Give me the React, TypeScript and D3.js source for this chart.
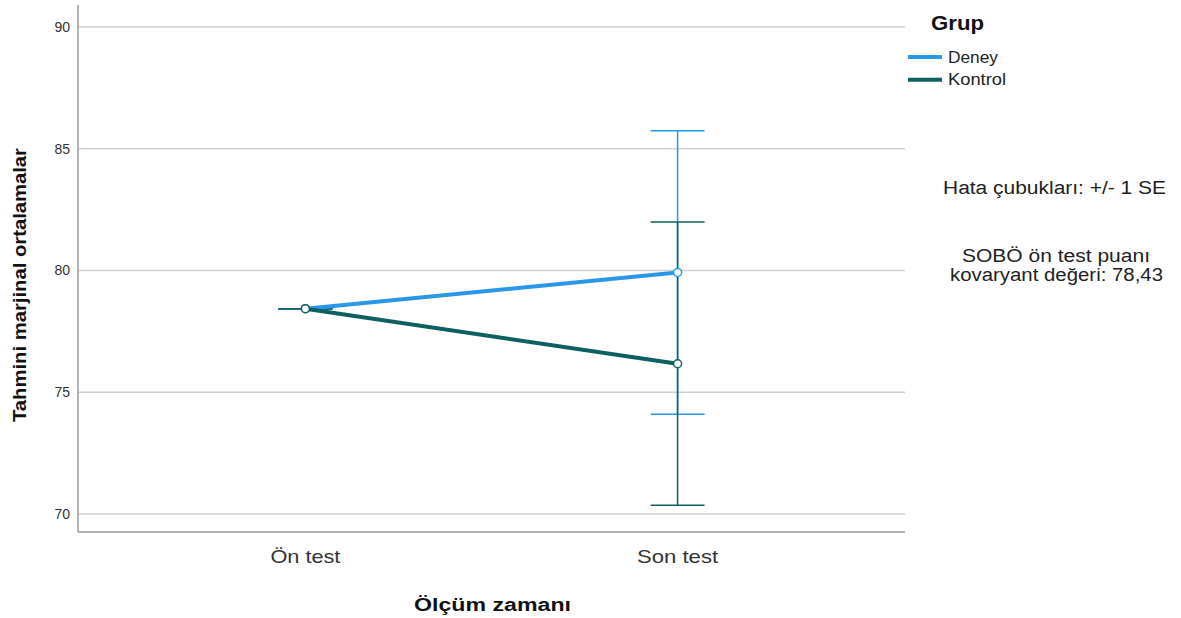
import React from "react";
import * as d3 from "d3";

const categories = ["Ön test", "Son test"];
const groups = ["Deney", "Kontrol"];
const deneyMeans = [78.43, 79.92];
const deneyLower = [78.43, 74.1];
const deneyUpper = [78.43, 85.74];
const kontrolMeans = [78.43, 76.17];
const kontrolLower = [78.43, 70.36];
const kontrolUpper = [78.43, 81.99];
const yTicks = [70, 75, 80, 85, 90];
const colors = ["#2b97e9", "#0e5f5f"];

const W = 1181, H = 618;
const left = 78, right = 905, top = 5, bottom = 532;

export default function App() {
  const x = d3.scalePoint<string>().domain(categories).range([left, right]).padding(0.611);
  const y = d3.scaleLinear().domain([70, 90]).range([514, 27]);
  const series = [
    { name: groups[0], means: deneyMeans, lo: deneyLower, hi: deneyUpper, color: colors[0] },
    { name: groups[1], means: kontrolMeans, lo: kontrolLower, hi: kontrolUpper, color: colors[1] },
  ];
  const line = d3.line<number>().x((_, i) => x(categories[i])!).y((d) => y(d));
  const font = "Liberation Sans, Arial, sans-serif";
  const cap = 27;
  const catLen = [70, 81];
  const legLen = [50, 58];
  return (
    <svg width={W} height={H} style={{ position: "fixed", left: 0, top: 0, background: "#fff" }} fontFamily={font}>
      {yTicks.map((t) => (
        <g key={t}>
          <line x1={left} x2={right} y1={y(t)} y2={y(t)} stroke="#cfcfcf" strokeWidth={1.5} />
          <text x={left - 8} y={y(t)} dy="0.35em" textAnchor="end" fontSize={14} fill="#333">{t}</text>
        </g>
      ))}
      <line x1={left} x2={left} y1={top} y2={bottom} stroke="#9a9a9a" strokeWidth={1.5} />
      <line x1={left} x2={right} y1={bottom} y2={bottom} stroke="#9a9a9a" strokeWidth={1.5} />
      {categories.map((c, i) => (
        <text key={c} x={x(c)! - catLen[i] / 2} y={563} fontSize={18.5} fill="#333" textLength={catLen[i]} lengthAdjust="spacingAndGlyphs">{c}</text>
      ))}
      <text x={414} y={611} fontSize={18} fontWeight="bold" fill="#111" textLength={157} lengthAdjust="spacingAndGlyphs">Ölçüm zamanı</text>
      <text transform="translate(26,422) rotate(-90)" fontSize={18} fontWeight="bold" fill="#111" textLength={274} lengthAdjust="spacingAndGlyphs">Tahmini marjinal ortalamalar</text>
      {series.map((s) => (
        <g key={s.name}>
          {categories.map((c, i) => (
            <g key={c} stroke={s.color} strokeWidth={1.5}>
              <line x1={x(c)} x2={x(c)} y1={y(s.lo[i])} y2={y(s.hi[i])} />
              <line x1={x(c)! - cap} x2={x(c)! + cap} y1={y(s.lo[i])} y2={y(s.lo[i])} />
              <line x1={x(c)! - cap} x2={x(c)! + cap} y1={y(s.hi[i])} y2={y(s.hi[i])} />
            </g>
          ))}
        </g>
      ))}
      {series.map((s) => (
        <g key={s.name + "l"}>
          <path d={line(s.means) || ""} fill="none" stroke={s.color} strokeWidth={4} />
          {s.means.map((m, i) => (
            <circle key={i} cx={x(categories[i])} cy={y(m)} r={4} fill="#fff" stroke={s.color} strokeWidth={1.5} />
          ))}
        </g>
      ))}
      <text x={931} y={30} fontSize={20} fontWeight="bold" fill="#111" textLength={53} lengthAdjust="spacingAndGlyphs">Grup</text>
      {series.map((s, i) => (
        <g key={s.name + "lg"}>
          <line x1={908} x2={942} y1={57 + i * 22.7} y2={57 + i * 22.7} stroke={s.color} strokeWidth={4} />
          <text x={948} y={57 + i * 22.7} dy="0.35em" fontSize={16} fill="#222" textLength={legLen[i]} lengthAdjust="spacingAndGlyphs">{s.name}</text>
        </g>
      ))}
      <text x={943} y={188} dy="0.35em" fontSize={18} fill="#222" textLength={223} lengthAdjust="spacingAndGlyphs">Hata çubukları: +/- 1 SE</text>
      <text x={962} y={256} dy="0.35em" fontSize={18} fill="#222" textLength={188} lengthAdjust="spacingAndGlyphs">SOBÖ ön test puanı</text>
      <text x={950} y={275} dy="0.35em" fontSize={18} fill="#222" textLength={213} lengthAdjust="spacingAndGlyphs">kovaryant değeri: 78,43</text>
    </svg>
  );
}
